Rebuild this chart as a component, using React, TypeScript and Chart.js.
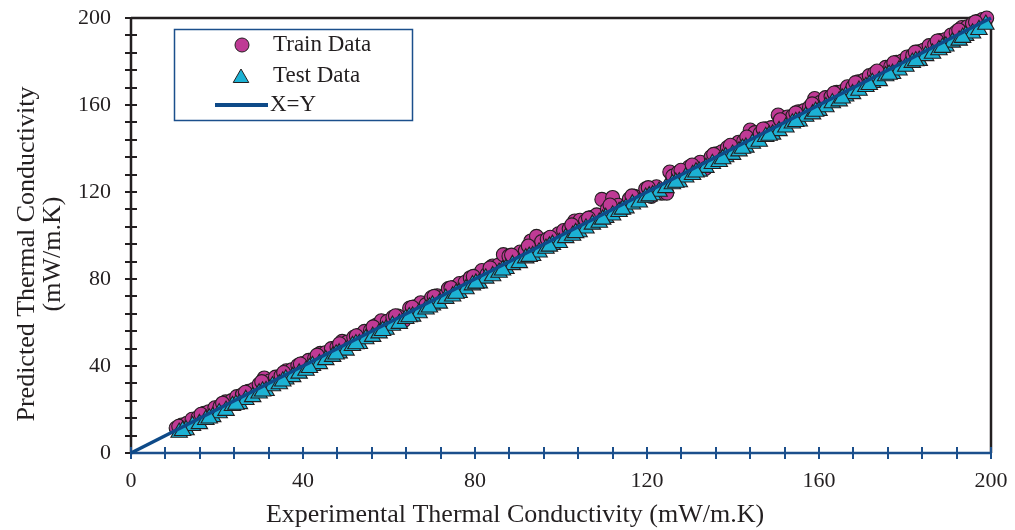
import React, { useEffect, useRef } from "react";
import { Chart, registerables } from "chart.js";

Chart.register(...registerables);

// ---- data ----
const trainX = [
  10.5, 11.8, 13.0, 14.2, 15.6, 17.0, 18.1, 19.5, 20.7, 22.0, 23.4, 24.6, 25.9, 27.3, 28.5, 29.8, 31.0, 32.2, 33.6, 34.9,
  36.1, 37.4, 38.8, 40.0, 41.3, 42.7, 44.0, 45.2, 46.6, 47.9, 49.1, 50.3, 51.8, 53.0, 54.3, 55.7, 57.0, 58.2, 59.6, 60.9,
  62.1, 63.5, 64.8, 66.0, 67.4, 68.6, 69.9, 71.2, 72.5, 73.8, 75.0, 76.4, 77.7, 78.9, 80.2, 81.6, 82.8, 84.1, 85.4, 86.6,
  87.9, 89.2, 90.5, 91.7, 93.0, 94.3, 95.5, 96.8, 98.1, 99.4, 100.6, 101.9, 103.2, 104.4, 105.7, 107.0, 108.3, 109.5, 110.8, 112.0,
  113.3, 114.6, 115.9, 117.1, 118.4, 119.7, 121.0, 122.2, 123.5, 124.6, 125.3, 126.0, 127.3, 128.6, 129.8, 131.1, 132.4, 133.6, 134.9, 136.2,
  137.4, 138.7, 140.0, 141.3, 142.5, 144.0, 145.1, 146.3, 147.6, 148.9, 150.5, 151.4, 152.7, 153.9, 155.2, 156.5, 157.8, 159.0, 160.3, 161.5,
  162.8, 164.1, 165.3, 166.6, 167.9, 169.1, 170.4, 171.7, 172.9, 174.2, 175.5, 176.7, 178.0, 179.3, 180.5, 181.8, 183.1, 184.3, 185.6, 186.9,
  188.1, 189.4, 190.7, 191.9, 193.2, 194.5, 195.7, 197.0, 198.0, 199.0,
  11.1, 16.3, 21.3, 26.6, 30.4, 35.5, 39.4, 43.3, 48.5, 52.4, 56.3, 61.5, 65.4, 70.5, 74.4, 79.6, 83.5, 88.5, 92.4, 97.5,
  102.5, 106.4, 111.4, 116.5, 120.3, 127.9, 130.5, 135.5, 139.4, 143.2, 147.0, 151.0, 154.6, 158.4, 163.5, 168.5, 173.5, 177.4, 182.4, 187.5,
  192.5, 196.4,
];
const trainY = [
  11.5, 12.9, 13.6, 15.5, 16.4, 18.3, 19.0, 20.8, 21.4, 23.5, 24.1, 25.9, 26.8, 28.4, 29.2, 31.6, 34.5, 33.1, 34.9, 35.6,
  37.8, 38.3, 40.2, 41.1, 42.6, 43.5, 45.8, 46.1, 48.0, 48.7, 51.3, 51.0, 53.2, 54.1, 55.9, 56.4, 58.7, 60.8, 60.5, 62.4,
  63.0, 61.0, 66.6, 67.2, 69.1, 68.2, 71.5, 72.3, 71.6, 75.6, 76.1, 77.9, 78.5, 80.6, 81.4, 83.9, 82.1, 86.0, 86.3, 91.2,
  90.5, 89.6, 92.4, 93.0, 97.5, 99.6, 97.2, 98.4, 99.0, 100.8, 102.3, 103.1, 106.7, 107.0, 106.6, 108.2, 109.5, 116.6, 112.2, 117.5,
  113.9, 112.5, 116.8, 118.0, 117.6, 121.5, 118.0, 122.4, 119.5, 119.5, 129.2, 127.3, 129.0, 129.2, 131.5, 132.0, 133.7, 130.8, 136.2, 137.6,
  138.5, 140.4, 141.1, 142.9, 143.4, 148.5, 147.3, 147.0, 149.1, 149.6, 155.4, 152.3, 154.5, 155.0, 156.9, 157.4, 159.0, 163.0, 161.2, 163.4,
  163.9, 165.8, 166.1, 168.4, 168.5, 170.7, 171.3, 173.5, 174.6, 175.0, 177.3, 177.8, 179.6, 180.2, 182.1, 182.9, 184.5, 185.2, 187.3, 187.8,
  189.6, 190.1, 192.2, 193.5, 195.6, 196.0, 197.4, 198.5, 199.3, 200.0,
  12.3, 17.8, 22.9, 27.9, 32.8, 37.0, 40.9, 45.0, 50.2, 53.9, 58.0, 63.1, 67.0, 72.0, 76.0, 81.2, 85.1, 91.0, 95.2, 99.2,
  104.9, 108.0, 114.0, 118.2, 122.0, 130.0, 132.4, 137.3, 141.5, 145.3, 149.0, 153.2, 156.4, 160.5, 165.5, 170.3, 175.6, 179.4, 184.3, 189.4,
  194.5, 198.2,
];
const testX = [
  11.2, 12.8, 14.3, 15.9, 17.4, 19.0, 20.5, 22.1, 23.6, 25.2, 26.7, 28.3, 29.8, 31.4, 32.9, 34.5, 36.0, 37.6, 39.1, 40.7,
  42.2, 43.8, 45.3, 46.9, 48.4, 50.0, 51.5, 53.1, 54.6, 56.2, 57.7, 59.3, 60.8, 62.4, 63.9, 65.5, 67.0, 68.6, 70.1, 71.7,
  73.2, 74.8, 76.3, 77.9, 79.4, 81.0, 82.5, 84.1, 85.6, 87.2, 88.7, 90.3, 91.8, 93.4, 94.9, 96.5, 98.0, 99.6, 101.1, 102.7,
  104.2, 105.8, 107.3, 108.9, 110.4, 112.0, 113.5, 115.1, 116.6, 118.2, 119.7, 121.3, 122.8, 124.4, 125.9, 127.5, 129.0, 130.6, 132.1, 133.7,
  135.2, 136.8, 138.3, 139.9, 141.4, 143.0, 144.5, 146.1, 147.6, 149.2, 150.7, 152.3, 153.8, 155.4, 156.9, 158.5, 160.0, 161.6, 163.1, 164.7,
  166.2, 167.8, 169.3, 170.9, 172.4, 174.0, 175.5, 177.1, 178.6, 180.2, 181.7, 183.3, 184.8, 186.4, 187.9, 189.5, 191.0, 192.6, 194.1, 195.7,
  197.2, 198.8,
  12.0, 18.2, 24.4, 30.6, 35.3, 41.5, 47.7, 52.3, 58.5, 64.7, 69.4, 75.6, 80.2, 86.4, 92.6, 97.3, 103.4, 109.7, 114.3, 120.5,
  126.7, 131.4, 137.6, 142.2, 148.4, 154.6, 159.2, 165.4, 171.7, 176.3, 182.5, 188.7, 193.4,
];
const testY = [
  9.4, 10.6, 12.5, 13.4, 15.3, 16.6, 18.4, 19.5, 21.7, 22.6, 24.5, 25.8, 27.5, 28.6, 30.8, 31.7, 33.9, 35.0, 36.6, 37.9,
  40.1, 41.0, 42.8, 44.3, 45.9, 47.2, 49.3, 50.2, 52.4, 53.5, 55.1, 56.8, 58.6, 59.5, 61.7, 62.8, 64.4, 66.1, 67.9, 68.8,
  71.0, 72.1, 73.7, 75.4, 77.2, 78.1, 80.3, 81.4, 83.0, 84.7, 86.5, 87.4, 89.6, 90.7, 92.3, 94.0, 95.8, 96.7, 98.9, 100.0,
  101.6, 103.3, 105.1, 106.0, 108.2, 109.3, 110.9, 112.6, 114.4, 115.3, 117.5, 118.6, 120.2, 121.9, 123.7, 124.6, 126.8, 127.9, 129.5, 131.2,
  133.0, 133.9, 136.1, 137.2, 138.8, 140.5, 142.3, 143.2, 145.4, 146.5, 148.1, 149.8, 151.6, 152.5, 154.7, 155.8, 157.4, 159.1, 160.9, 161.8,
  164.0, 165.1, 166.7, 168.4, 170.2, 171.1, 173.3, 174.4, 176.0, 177.7, 179.5, 180.4, 182.6, 183.7, 185.3, 187.0, 188.8, 189.7, 191.9, 193.0,
  194.6, 197.0,
  10.2, 16.0, 22.3, 28.4, 33.0, 39.2, 45.4, 50.1, 56.2, 62.5, 67.0, 73.3, 78.0, 84.0, 90.3, 95.0, 101.2, 107.4, 112.0, 118.1,
  124.4, 129.1, 135.2, 140.0, 146.0, 152.3, 157.0, 163.1, 169.3, 174.0, 180.2, 186.4, 191.0,
];
const lineX = [0, 200];
const lineY = [0, 200];

const axisMin = 0;
const axisMax = 200;
const tickStep = 8;
const labelStep = 40;

const seriesNames = ["Train Data", "Test Data", "X=Y"];
const xTitle = "Experimental Thermal Conductivity (mW/m.K)";
const yTitle = ["Predicted Thermal Conductivity", "(mW/m.K)"];

// ---- styles ----
const FONT = "'Liberation Serif', 'Times New Roman', serif";
const TEXT = "#231f20";
const TRAIN_FILL = "#bf3a95";
const TEST_FILL = "#1cb2d4";
const OUTLINE = "#231f20";
const LINE_BLUE = "#0e4a88";
const AXIS_BLUE = "#1b4f8c";

const framePlugin = {
  id: "frameAxes",
  beforeDatasetsDraw(chart: any) {
    const { ctx, chartArea, scales } = chart;
    const { left, right, top, bottom } = chartArea;
    ctx.save();
    ctx.lineCap = "butt";
    ctx.strokeStyle = TEXT;
    ctx.lineWidth = 2.5;
    ctx.beginPath();
    ctx.moveTo(left, top);
    ctx.lineTo(right, top);
    ctx.lineTo(right, bottom);
    ctx.stroke();
    ctx.beginPath();
    ctx.moveTo(left, top - 1);
    ctx.lineTo(left, bottom);
    ctx.stroke();
    ctx.lineWidth = 2;
    for (const t of scales.y.ticks) {
      const py = Math.round(scales.y.getPixelForValue(t.value));
      ctx.beginPath();
      ctx.moveTo(left - 6, py);
      ctx.lineTo(left + 6, py);
      ctx.stroke();
    }
    ctx.strokeStyle = AXIS_BLUE;
    ctx.lineWidth = 2.5;
    ctx.beginPath();
    ctx.moveTo(left, bottom);
    ctx.lineTo(right, bottom);
    ctx.stroke();
    ctx.lineWidth = 2;
    for (const t of scales.x.ticks) {
      const px = Math.round(scales.x.getPixelForValue(t.value));
      ctx.beginPath();
      ctx.moveTo(px, bottom - 6);
      ctx.lineTo(px, bottom + 6);
      ctx.stroke();
    }
    ctx.restore();
  },
};

const overlayPlugin = {
  id: "overlay",
  afterDraw(chart: any) {
    const { ctx } = chart;
    ctx.save();
    ctx.fillStyle = TEXT;
    ctx.font = `26px ${FONT}`;
    ctx.textAlign = "center";
    ctx.textBaseline = "middle";
    ctx.fillText(xTitle, 515, 515);
    ctx.save();
    ctx.translate(27, 254);
    ctx.rotate(-Math.PI / 2);
    yTitle.forEach((line, i) => ctx.fillText(line, 0, i * 26));
    ctx.restore();

    const bx = 174.5, by = 29.5, bw = 238, bh = 91;
    ctx.strokeStyle = AXIS_BLUE;
    ctx.lineWidth = 1.5;
    ctx.strokeRect(bx, by, bw, bh);
    ctx.font = `23px ${FONT}`;
    ctx.textAlign = "left";
    const ds = chart.data.datasets;
    const rows = [45, 76, 105];
    ctx.beginPath();
    ctx.arc(242, rows[0], 7, 0, Math.PI * 2);
    ctx.fillStyle = ds[0].pointBackgroundColor;
    ctx.fill();
    ctx.strokeStyle = ds[0].pointBorderColor;
    ctx.lineWidth = 1;
    ctx.stroke();
    const r = 9;
    const cx = 241, cy = rows[1] + 2;
    ctx.beginPath();
    ctx.moveTo(cx, cy - r);
    ctx.lineTo(cx + r * Math.sin((2 * Math.PI) / 3), cy + r * 0.5);
    ctx.lineTo(cx - r * Math.sin((2 * Math.PI) / 3), cy + r * 0.5);
    ctx.closePath();
    ctx.fillStyle = ds[1].pointBackgroundColor;
    ctx.fill();
    ctx.strokeStyle = ds[1].pointBorderColor;
    ctx.stroke();
    ctx.beginPath();
    ctx.moveTo(215, rows[2]);
    ctx.lineTo(268, rows[2]);
    ctx.strokeStyle = ds[2].borderColor;
    ctx.lineWidth = 4;
    ctx.stroke();
    ctx.fillStyle = TEXT;
    ctx.fillText(seriesNames[0], 273, rows[0]);
    ctx.fillText(seriesNames[1], 273, rows[1]);
    ctx.fillText(seriesNames[2], 270, rows[2]);
    ctx.restore();
  },
};

export default function App() {
  const ref = useRef<HTMLCanvasElement | null>(null);
  useEffect(() => {
    if (!ref.current) return;
    const chart = new Chart(ref.current, {
      type: "scatter",
      data: {
        datasets: [
          {
            label: seriesNames[0],
            data: trainX.map((x, i) => ({ x, y: trainY[i] })),
            pointStyle: "circle",
            pointRadius: 7,
            pointBackgroundColor: TRAIN_FILL,
            pointBorderColor: OUTLINE,
            pointBorderWidth: 1.1,
            order: 2,
            clip: false,
          } as any,
          {
            label: seriesNames[1],
            data: testX.map((x, i) => ({ x, y: testY[i] })),
            pointStyle: "triangle",
            pointRadius: 9.5,
            pointBackgroundColor: TEST_FILL,
            pointBorderColor: OUTLINE,
            pointBorderWidth: 1.1,
            order: 1,
            clip: false,
          } as any,
          {
            label: seriesNames[2],
            data: lineX.map((x, i) => ({ x, y: lineY[i] })),
            showLine: true,
            pointRadius: 0,
            borderColor: LINE_BLUE,
            borderWidth: 3.5,
            order: 0,
            clip: false,
          } as any,
        ],
      },
      options: {
        responsive: false,
        animation: false,
        devicePixelRatio: 1,
        events: [],
        layout: { padding: { top: 18, right: 24, left: 0, bottom: 0 } },
        plugins: { legend: { display: false }, tooltip: { enabled: false } },
        scales: {
          x: {
            type: "linear",
            min: axisMin,
            max: axisMax,
            afterFit: (s: any) => {
              s.height = 77;
            },
            ticks: {
              stepSize: tickStep,
              autoSkip: false,
              maxRotation: 0,
              padding: 0,
              color: TEXT,
              font: { family: FONT, size: 22 },
              callback: (v: any) => (Number(v) % labelStep === 0 ? String(v) : ""),
            },
            grid: { display: false, drawTicks: true, tickLength: 15 },
            border: { display: false },
          },
          y: {
            type: "linear",
            min: axisMin,
            max: axisMax,
            afterFit: (s: any) => {
              s.width = 131;
            },
            ticks: {
              stepSize: tickStep,
              autoSkip: false,
              padding: 0,
              color: TEXT,
              font: { family: FONT, size: 22 },
              callback: (v: any) => (Number(v) % labelStep === 0 ? String(v) : ""),
            },
            grid: { display: false, drawTicks: true, tickLength: 20 },
            border: { display: false },
          },
        },
      } as any,
      plugins: [framePlugin, overlayPlugin],
    });
    return () => chart.destroy();
  }, []);
  return (
    <div style={{ position: "absolute", left: 0, top: 0, width: 1015, height: 530, background: "#fff" }}>
      <canvas ref={ref} width={1015} height={530} style={{ width: 1015, height: 530 }} />
    </div>
  );
}
